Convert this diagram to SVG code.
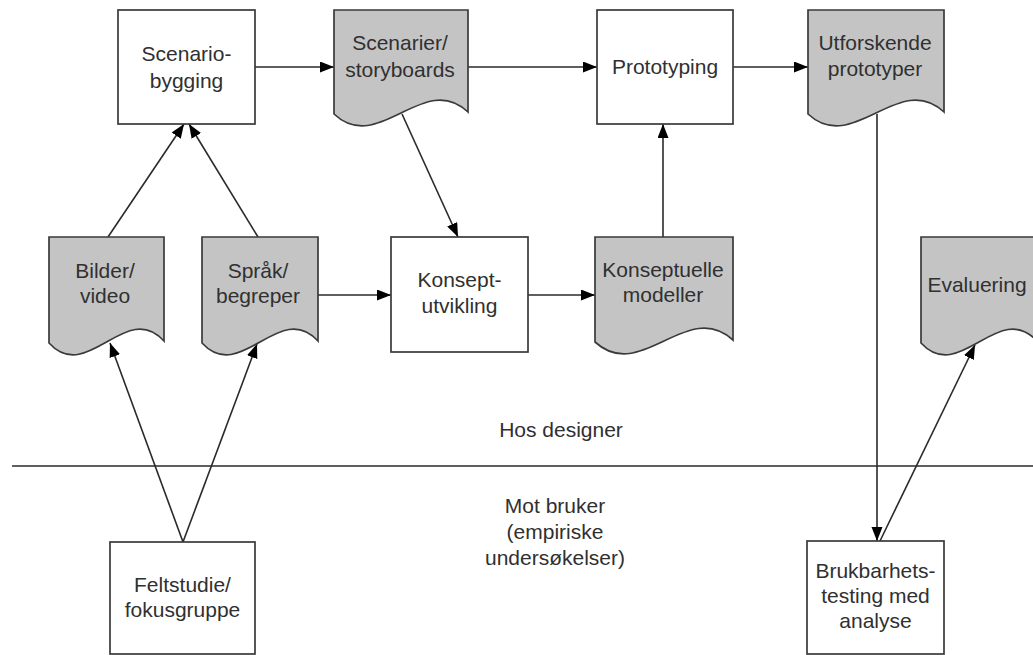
<svg xmlns="http://www.w3.org/2000/svg" width="1033" height="655" viewBox="0 0 1033 655">
  <style>
    .box { fill: #ffffff; stroke: #3a3a3a; stroke-width: 1.7; }
    .doc { fill: #c4c4c4; stroke: #3a3a3a; stroke-width: 1.7; }
    .lbl { font-family: "Liberation Sans", Arial, sans-serif; font-size: 21px; fill: #303030; text-anchor: middle; }
    .conn { fill: none; stroke: #2a2a2a; stroke-width: 1.6; }
    .arr { marker-end: url(#head); }
  </style>
  <defs>
    <marker id="head" markerUnits="userSpaceOnUse" markerWidth="15" markerHeight="12" refX="14" refY="5.5" orient="auto">
      <path d="M0,0 L14,5.5 L0,11 Z" fill="#000"/>
    </marker>
  </defs>
  <rect width="1033" height="655" fill="#ffffff"/>

  <!-- divider between designer side and user side -->
  <line x1="12" y1="466" x2="1033" y2="466" stroke="#2a2a2a" stroke-width="1.7"/>
  <text class="lbl" x="561" y="437">Hos designer</text>
  <text class="lbl" x="555" y="513">Mot bruker</text>
  <text class="lbl" x="555" y="539">(empiriske</text>
  <text class="lbl" x="555" y="565">undersøkelser)</text>

  <!-- connectors -->
  <g id="connectors">
    <line class="conn arr" x1="255" y1="67" x2="334" y2="67"/>
    <line class="conn arr" x1="468" y1="67" x2="597" y2="67"/>
    <line class="conn arr" x1="733" y1="67" x2="808" y2="67"/>
    <line class="conn arr" x1="402" y1="114" x2="458" y2="237"/>
    <line class="conn arr" x1="108" y1="237" x2="184" y2="124"/>
    <line class="conn arr" x1="258" y1="237" x2="189" y2="124"/>
    <line class="conn arr" x1="318" y1="295" x2="391" y2="295"/>
    <line class="conn arr" x1="528" y1="295" x2="595" y2="295"/>
    <line class="conn arr" x1="663" y1="237" x2="663" y2="124"/>
    <line class="conn arr" x1="183" y1="542" x2="110" y2="343"/>
    <line class="conn arr" x1="183" y1="542" x2="257" y2="344"/>
    <line class="conn arr" x1="877" y1="114" x2="877" y2="541"/>
    <line class="conn arr" x1="880" y1="541" x2="975" y2="345"/>
  </g>

  <!-- process boxes -->
  <g id="scenariobygging">
    <rect class="box" x="118" y="10" width="137" height="114"/>
    <text class="lbl" x="186.5" y="61">Scenario-</text>
    <text class="lbl" x="186.5" y="88">bygging</text>
  </g>
  <g id="prototyping">
    <rect class="box" x="597" y="10" width="136" height="114"/>
    <text class="lbl" x="665" y="74">Prototyping</text>
  </g>
  <g id="konseptutvikling">
    <rect class="box" x="391" y="237" width="137" height="115"/>
    <text class="lbl" x="459.5" y="287">Konsept-</text>
    <text class="lbl" x="459.5" y="313">utvikling</text>
  </g>
  <g id="feltstudie">
    <rect class="box" x="110" y="542" width="145" height="112"/>
    <text class="lbl" x="182.5" y="592">Feltstudie/</text>
    <text class="lbl" x="182.5" y="617">fokusgruppe</text>
  </g>
  <g id="brukbarhetstesting">
    <rect class="box" x="807" y="541" width="137" height="113"/>
    <text class="lbl" x="875.5" y="578">Brukbarhets-</text>
    <text class="lbl" x="875.5" y="603">testing med</text>
    <text class="lbl" x="875.5" y="628">analyse</text>
  </g>

  <!-- document shapes (wavy bottom edge) -->
  <g id="scenarier">
    <path class="doc" d="M334,10 H468 V112 C423.3,70 378.7,156 334,114 Z"/>
    <text class="lbl" x="400" y="50">Scenarier/</text>
    <text class="lbl" x="400" y="77">storyboards</text>
  </g>
  <g id="utforskende">
    <path class="doc" d="M808,10 H944 V112 C898.7,70 853.3,156 808,114 Z"/>
    <text class="lbl" x="875" y="50">Utforskende</text>
    <text class="lbl" x="875" y="76">prototyper</text>
  </g>
  <g id="bilder">
    <path class="doc" d="M49,237 H164 V341 C125.7,299 87.3,385 49,343 Z"/>
    <text class="lbl" x="105" y="278">Bilder/</text>
    <text class="lbl" x="105" y="303">video</text>
  </g>
  <g id="sprak">
    <path class="doc" d="M202,237 H318 V341 C279.3,299 240.7,385 202,343 Z"/>
    <text class="lbl" x="258" y="278">Språk/</text>
    <text class="lbl" x="258" y="303">begreper</text>
  </g>
  <g id="konseptuelle">
    <path class="doc" d="M595,237 H733 V340 C687,298 641,384 595,342 Z"/>
    <text class="lbl" x="663" y="277">Konseptuelle</text>
    <text class="lbl" x="663" y="302">modeller</text>
  </g>
  <g id="evaluering">
    <path class="doc" d="M921,237 H1037 V341 C998.3,299 959.7,385 921,343 Z"/>
    <text class="lbl" x="977" y="292">Evaluering</text>
  </g>
</svg>
